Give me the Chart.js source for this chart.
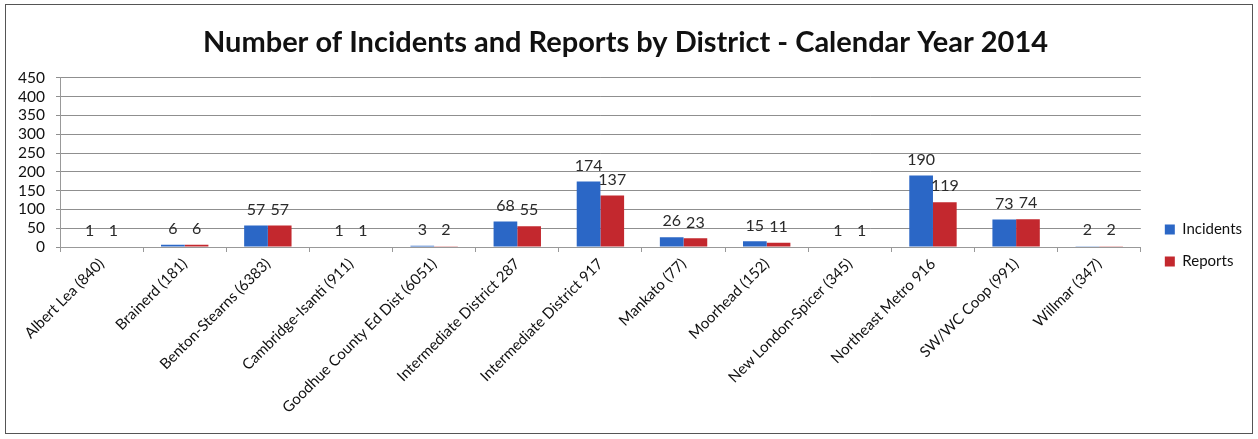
<!DOCTYPE html>
<html>
<head>
<meta charset="utf-8">
<script src="https://cdn.jsdelivr.net/npm/chart.js@4"></script>
<style>
  html, body { margin: 0; padding: 0; background: #fff; }
  #frame {
    position: absolute; left: 5px; top: 4px;
    width: 1246px; height: 428px;
    border: 1px solid #555;
  }
</style>
</head>
<body>
<div id="frame"><canvas id="chart"></canvas></div>
<script>
const districts = [
  "Albert Lea (840)", "Brainerd (181)", "Benton-Stearns (6383)", "Cambridge-Isanti (911)",
  "Goodhue County Ed Dist (6051)", "Intermediate District 287", "Intermediate District 917",
  "Mankato (77)", "Moorhead (152)", "New London-Spicer (345)", "Northeast Metro 916",
  "SW/WC Coop (991)", "Willmar (347)"
]
const incidents = [1, 6, 57, 1, 3, 68, 174, 26, 15, 1, 190, 73, 2]
const reports = [1, 6, 57, 1, 2, 55, 137, 23, 11, 1, 119, 74, 2]

const blue = "#2b67c6"
const red = "#c3282e"
const font = "Lato, 'Open Sans', sans-serif"

// value labels over each bar
const barLabels = {
  id: "barLabels",
  afterDatasetsDraw(chart) {
    const ctx = chart.ctx
    ctx.save()
    ctx.font = "16px " + font
    ctx.fillStyle = "#2a2a2a"
    ctx.textAlign = "center"
    ctx.textBaseline = "middle"
    chart.data.datasets.forEach((ds, i) => {
      chart.getDatasetMeta(i).data.forEach((bar, j) => {
        ctx.fillText(ds.data[j], bar.x, bar.y - 16)
      })
    })
    ctx.restore()
  }
}

// keep the plot narrower but leave the legend where it was
const legendNudge = {
  id: "legendNudge",
  afterLayout(chart) {
    if (chart.legend) {
      chart.legend.left += 7
      chart.legend.right += 7
    }
  }
}

new Chart(document.getElementById("chart"), {
  type: "bar",
  data: {
    labels: districts,
    datasets: [
      { label: "Incidents", data: incidents, backgroundColor: blue },
      { label: "Reports", data: reports, backgroundColor: red }
    ]
  },
  plugins: [barLabels, legendNudge],
  options: {
    responsive: true,
    maintainAspectRatio: false,
    animation: false,
    layout: { padding: { left: 0, right: 7, top: 0, bottom: 0 } },
    datasets: {
      bar: { barPercentage: 1, categoryPercentage: 0.57 }
    },
    plugins: {
      title: {
        display: true,
        text: "Number of Incidents and Reports by District - Calendar Year 2014",
        color: "#111",
        font: { family: font, size: 29, weight: "bold" },
        padding: { top: 20, bottom: 18 }
      },
      legend: {
        position: "right",
        title: { display: true, text: " ", font: { size: 1 }, padding: 26 },
        labels: {
          boxWidth: 10,
          boxHeight: 10,
          padding: 17,
          color: "#111",
          font: { family: font, size: 15 }
        }
      },
      tooltip: { enabled: false }
    },
    scales: {
      x: {
        afterFit: (scale) => { scale.height = 186 },
        grid: { drawOnChartArea: false, drawTicks: true, tickLength: 5, offset: true, color: "#999" },
        border: { color: "#999" },
        ticks: {
          minRotation: 45,
          maxRotation: 45,
          autoSkip: false,
          color: "#111",
          font: { family: font, size: 15 }
        }
      },
      y: {
        min: 0,
        max: 450,
        afterFit: (scale) => { scale.width = 54 },
        grid: { color: "#8f8f8f", tickLength: 4 },
        border: { color: "#999" },
        ticks: {
          stepSize: 50,
          autoSkip: false,
          padding: 11,
          color: "#111",
          font: { family: font, size: 15.5 }
        }
      }
    }
  }
})
</script>
</body>
</html>
